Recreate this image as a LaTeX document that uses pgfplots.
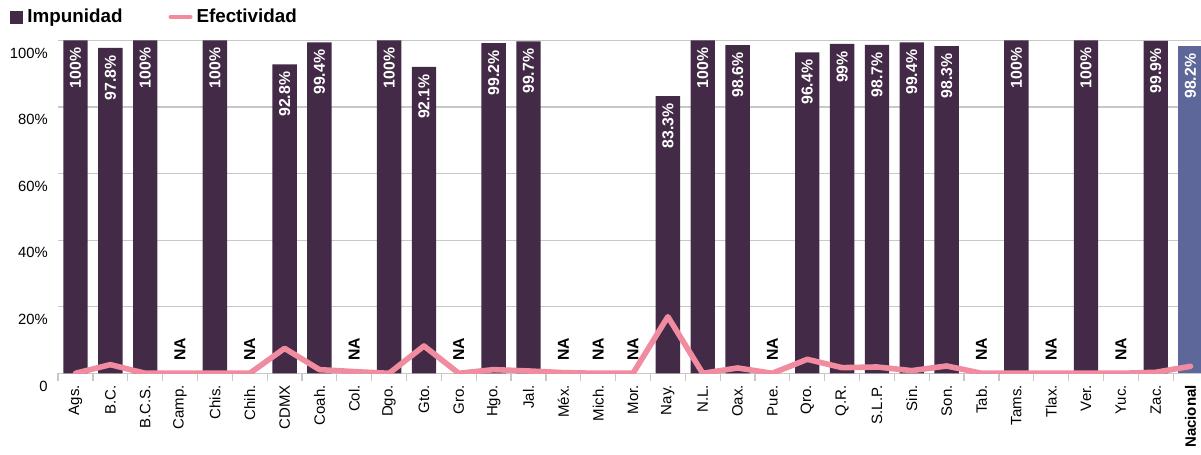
\documentclass[border=0pt]{standalone}
\usepackage{pgfplots}
\pgfplotsset{compat=1.18}
\usepackage{pgfplotstable}
\usepackage{fontspec}
\setmainfont{Liberation Sans}
\definecolor{impun}{HTML}{432A47}
\definecolor{nacional}{HTML}{5E6799}
\definecolor{efect}{HTML}{F08BA0}
\definecolor{gridc}{HTML}{C8C8C8}

\pgfplotstableread{
x y
0 100
1 97.8
2 100
4 100
6 92.8
7 99.4
9 100
10 92.1
12 99.2
13 99.7
17 83.3
18 100
19 98.6
21 96.4
22 99
23 98.7
24 99.4
25 98.3
27 100
29 100
31 99.9
}\impunidad

\pgfplotstableread{
x y
32 98.2
}\nacional

\pgfplotstableread{
x y
3 0
5 0
8 0
11 0
14 0
15 0
16 0
20 0
26 0
28 0
30 0
}\nadata

\pgfplotstableread{
x y
0 0
1 2.6
2 0
3 0
4 0
5 0
6 7.5
7 1.1
8 0.5
9 0
10 8.2
11 0
12 1.1
13 0.7
14 0.2
15 0
16 0
17 17.0
18 0
19 1.6
20 0
21 4.2
22 1.7
23 1.9
24 0.8
25 2.2
26 0
27 0
28 0
29 0
30 0
31 0.3
32 2.1
}\efectividad

\begin{document}
\begin{tikzpicture}
\begin{axis}[
  scale only axis,
  width=571.45pt, height=166.4pt,
  xmin=-0.5, xmax=32.3,
  ymin=0, ymax=100,
  clip=true,
  axis line style={draw=none},
  ymajorgrids, grid style={gridc, line width=0.6pt},
  ytick={0,20,40,60,80,100},
  yticklabels={0,20\%,40\%,60\%,80\%,100\%},
  ytick style={draw=none},
  yticklabel style={anchor=north east, inner sep=0pt, xshift=-5pt, yshift=-3.5pt,
    font=\fontsize{7.4}{9}\selectfont, text=black},
  xtick={0,...,32},
  xticklabels={Ags.,B.C.,B.C.S.,Camp.,Chis.,Chih.,CDMX,Coah.,Col.,Dgo.,Gto.,Gro.,Hgo.,Jal.,Méx.,Mich.,Mor.,Nay.,N.L.,Oax.,Pue.,Qro.,Q.R.,S.L.P.,Sin.,Son.,Tab.,Tams.,Tlax.,Ver.,Yuc.,Zac.,\textbf{Nacional}},
  minor xtick={-0.5,0.5,...,31.5},
  major tick length=0pt,
  minor tick length=4pt,
  tick align=outside,
  xtick pos=bottom,
  major x tick style={draw=none},
  minor x tick style={gridc, line width=0.6pt},
  xticklabel style={rotate=90, anchor=east, inner xsep=0pt, inner ysep=0pt, xshift=-5.8pt,
    font=\fontsize{7.5}{9}\selectfont, text=black},
  /pgf/number format/assume math mode=true,
  legend columns=2,
  legend style={at={(rel axis cs:-0.042,1.0706)}, anchor=west, draw=none, fill=none,
    inner sep=0pt, nodes={inner xsep=2pt, inner ysep=1pt},
    font=\fontsize{9.4}{11}\bfseries\selectfont,
    /tikz/every even column/.append style={column sep=21pt}},
  legend cell align=left,
]
\addplot[ybar, bar width=0.70, bar shift=0pt, fill=impun, draw=none,
  nodes near coords={\pgfmathprintnumber[fixed,precision=1]{\pgfplotspointmeta}\%},
  every node near coord/.append style={rotate=90, anchor=east, inner xsep=3.5pt, inner ysep=0pt,
    text=white, font=\fontsize{7.9}{9}\bfseries\selectfont},
  legend image code/.code={\fill[impun] (0pt,-3.25pt) rectangle (6.5pt,3.25pt);}]
  table[x=x,y=y] {\impunidad};
\addlegendentry{Impunidad}
\addplot[ybar, bar width=0.70, bar shift=0pt, fill=nacional, draw=none, forget plot,
  nodes near coords={\pgfmathprintnumber[fixed,precision=1]{\pgfplotspointmeta}\%},
  every node near coord/.append style={rotate=90, anchor=east, inner xsep=3.5pt, inner ysep=0pt,
    text=white, font=\fontsize{7.9}{9}\bfseries\selectfont}]
  table[x=x,y=y] {\nacional};
\addplot[only marks, mark=none, forget plot,
  nodes near coords={NA},
  every node near coord/.append style={rotate=90, anchor=west, inner xsep=6pt, inner ysep=0pt,
    text=black, font=\fontsize{7.9}{9}\bfseries\selectfont}]
  table[x=x,y=y] {\nadata};
\addplot[sharp plot, efect, line width=2.8pt, line join=round, line cap=round, mark=none,
  legend image code/.code={\draw[efect, line width=2pt] (0pt,0pt) -- (10pt,0pt);}]
  table[x=x,y=y] {\efectividad};
\addlegendentry{Efectividad}
\coordinate (bl) at (rel axis cs:0,0);
\coordinate (tr) at (rel axis cs:1,1);
\end{axis}
\pgfresetboundingbox
\path[use as bounding box] ([xshift=-29.05pt,yshift=-40.85pt]bl) rectangle ([yshift=20.25pt]tr);
\end{tikzpicture}
\end{document}
